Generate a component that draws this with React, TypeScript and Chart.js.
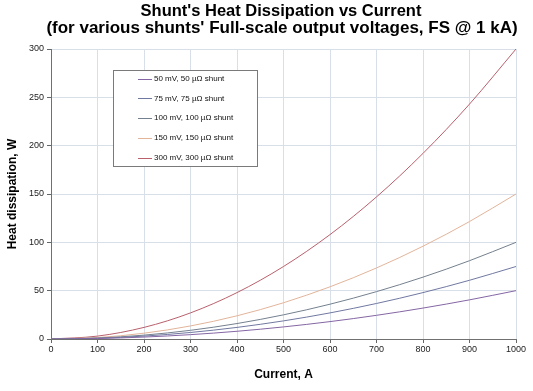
import React, { useEffect, useRef } from "react";
import { Chart, registerables } from "chart.js";

Chart.register(...registerables);

const currents = [0, 100, 200, 300, 400, 500, 600, 700, 800, 900, 1000];
const s50 = [0, 0.5, 2, 4.5, 8, 12.5, 18, 24.5, 32, 40.5, 50];
const s75 = [0, 0.75, 3, 6.75, 12, 18.75, 27, 36.75, 48, 60.75, 75];
const s100 = [0, 1, 4, 9, 16, 25, 36, 49, 64, 81, 100];
const s150 = [0, 1.5, 6, 13.5, 24, 37.5, 54, 73.5, 96, 121.5, 150];
const s300 = [0, 3, 12, 27, 48, 75, 108, 147, 192, 243, 300];

const seriesLabels = [
  "50 mV, 50 µΩ shunt",
  "75 mV, 75 µΩ shunt",
  "100 mV, 100 µΩ shunt",
  "150 mV, 150 µΩ shunt",
  "300 mV, 300 µΩ shunt",
];
const seriesColors = ["#8466a4", "#7078a0", "#74808e", "#e2b49a", "#b8606c"];
const seriesValues = [s50, s75, s100, s150, s300];

const titleLines = [
  "Shunt's Heat Dissipation vs Current",
  "(for various shunts' Full-scale output voltages, FS @ 1 kA)",
];
const xTitle = "Current, A";
const yTitle = "Heat dissipation, W";

const FONT = "Arial, 'Liberation Sans', sans-serif";

const overlay = {
  id: "overlay",
  afterDraw(chart: any) {
    const ctx = chart.ctx as CanvasRenderingContext2D;
    const area = chart.chartArea;
    ctx.save();
    // titles
    ctx.fillStyle = "#000";
    ctx.textAlign = "center";
    ctx.textBaseline = "middle";
    ctx.font = `bold 16.5px ${FONT}`;
    ctx.fillText(titleLines[0], 281, 11);
    ctx.font = `bold 17px ${FONT}`;
    ctx.fillText(titleLines[1], 282, 28);
    ctx.font = `bold 12px ${FONT}`;
    ctx.fillText(xTitle, (area.left + area.right) / 2, 375);
    ctx.save();
    ctx.translate(13, (area.top + area.bottom) / 2);
    ctx.rotate(-Math.PI / 2);
    ctx.fillText(yTitle, 0, 0);
    ctx.restore();
    // legend
    const lx = 113, ly = 70, lw = 144, lh = 96;
    ctx.fillStyle = "#fff";
    ctx.fillRect(lx, ly, lw, lh);
    ctx.strokeStyle = "#7a7a7a";
    ctx.lineWidth = 1;
    ctx.strokeRect(lx + 0.5, ly + 0.5, lw, lh);
    ctx.font = `8px ${FONT}`;
    ctx.textAlign = "left";
    chart.data.datasets.forEach((ds: any, i: number) => {
      const yy = 78.5 + i * 19.8;
      ctx.strokeStyle = ds.borderColor;
      ctx.beginPath();
      ctx.moveTo(138, Math.round(yy) + 0.5);
      ctx.lineTo(152, Math.round(yy) + 0.5);
      ctx.stroke();
      ctx.fillStyle = "#111";
      ctx.fillText(ds.label, 154, yy);
    });
    ctx.restore();
  },
};

export default function App() {
  const ref = useRef<HTMLCanvasElement | null>(null);
  useEffect(() => {
    document.body.style.margin = "0";
    const canvas = ref.current!;
    const chart = new Chart(canvas, {
      type: "line",
      data: {
        datasets: seriesValues.map((vals, i) => ({
          label: seriesLabels[i],
          data: vals.map((v, j) => ({ x: currents[j], y: v })),
          borderColor: seriesColors[i],
          backgroundColor: seriesColors[i],
          borderWidth: 1,
          pointRadius: 0,
          cubicInterpolationMode: "monotone" as const,
          fill: false,
        })),
      },
      options: {
        animation: false,
        responsive: false,
        maintainAspectRatio: false,
        layout: { padding: { left: 0, right: 17, top: 49, bottom: 0 } },
        plugins: {
          legend: { display: false },
          title: { display: false },
          tooltip: { enabled: false },
        },
        scales: {
          x: {
            type: "linear",
            min: 0,
            max: 1000,
            afterFit(scale: any) {
              scale.height = 52;
            },
            ticks: {
              stepSize: 100,
              color: "#222",
              font: { size: 9, family: FONT },
              padding: 1,
              maxRotation: 0,
              callback: (v: any) => String(v),
            },
            grid: {
              color: "#d9dfe8",
              tickColor: "#666",
              tickLength: 4,
            },
            border: { color: "#707070", width: 1 },
          },
          y: {
            min: 0,
            max: 300,
            afterFit(scale: any) {
              scale.width = 51;
            },
            ticks: {
              stepSize: 50,
              color: "#222",
              font: { size: 9, family: FONT },
              padding: 3,
              callback: (v: any) => String(v),
            },
            grid: {
              color: "#d9dfe8",
              tickColor: "#666",
              tickLength: 4,
            },
            border: { color: "#707070", width: 1 },
          },
        },
      },
      plugins: [overlay],
    });
    return () => chart.destroy();
  }, []);
  return <canvas ref={ref} width={533} height={391} style={{ display: "block" }} />;
}
